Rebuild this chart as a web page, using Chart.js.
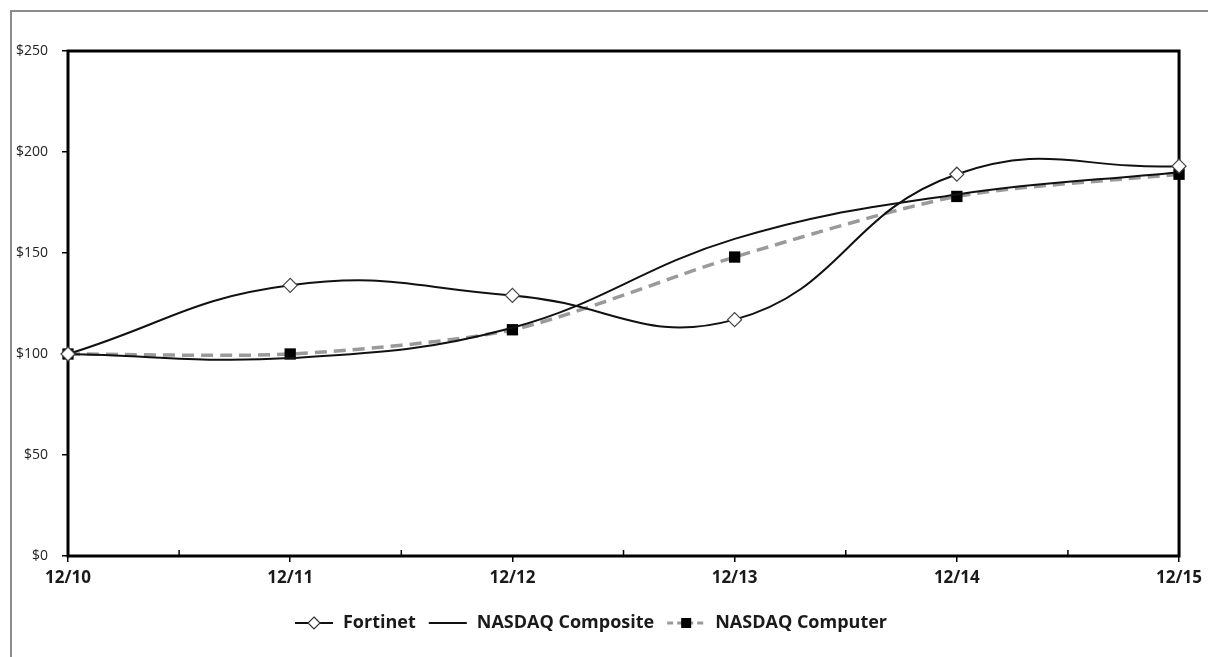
<!DOCTYPE html>
<html>
<head>
<meta charset="utf-8">
<script src="https://cdn.jsdelivr.net/npm/chart.js@4/dist/chart.umd.min.js"></script>
<style>
  html, body { margin: 0; padding: 0; background: #fff; }
  #wrap { position: relative; width: 1208px; height: 657px; }
  #frame { position: absolute; left: 10px; top: 10px; right: 0; bottom: 0;
           border-top: 2px solid #8c8c8c; border-left: 2px solid #8c8c8c; }
  canvas { position: absolute; left: 0; top: 0; }
</style>
</head>
<body>
<div id="wrap">
  <div id="frame"></div>
  <canvas id="perfChart" width="1208" height="657"></canvas>
</div>
<script>
// values
const years = ["12/10", "12/11", "12/12", "12/13", "12/14", "12/15"];
const fortinet = [100, 134, 129, 117, 189, 193];
const nasdaqComposite = [100, 98, 113, 157, 179, 190];
const nasdaqComputer = [100, 100, 112, 148, 178, 189];
const yTicks = [0, 50, 100, 150, 200, 250];

const FONT = "'Open Sans', sans-serif";

// small legend icons: line with marker, like the spreadsheet legend
const makeIcon = (kind) => {
    const c = document.createElement("canvas");
    c.width = 40;
    c.height = 16;
    const g = c.getContext("2d");
    g.lineCap = "butt";
    if (kind === "computer") {
        g.strokeStyle = "#9a9a9a";
        g.lineWidth = 3;
        g.setLineDash([6, 4]);
    } else {
        g.strokeStyle = "#111";
        g.lineWidth = 2;
    }
    g.beginPath();
    g.moveTo(1, 8);
    g.lineTo(39, 8);
    g.stroke();
    g.setLineDash([]);
    if (kind === "fortinet") {
        g.fillStyle = "#fff";
        g.strokeStyle = "#333";
        g.lineWidth = 1.2;
        g.beginPath();
        g.moveTo(20, 2);
        g.lineTo(26, 8);
        g.lineTo(20, 14);
        g.lineTo(14, 8);
        g.closePath();
        g.fill();
        g.stroke();
    }
    if (kind === "computer") {
        g.fillStyle = "#000";
        g.fillRect(15, 3, 10, 10);
    }
    return c;
};
const icons = [makeIcon("fortinet"), makeIcon("composite"), makeIcon("computer")];

// plot box and the little x ticks between categories
const framePlugin = {
    id: "framePlugin",
    beforeDatasetsDraw(chart) {
        const {ctx, chartArea} = chart;
        const xs = chart.scales.x;
        ctx.save();
        ctx.strokeStyle = "#000";
        ctx.lineWidth = 1.5;
        for (let i = 0; i < years.length - 1; i++) {
            const px = xs.getPixelForValue(i + 0.5);
            ctx.beginPath();
            ctx.moveTo(px, chartArea.bottom);
            ctx.lineTo(px, chartArea.bottom - 6);
            ctx.stroke();
        }
        ctx.lineWidth = 3;
        ctx.strokeRect(chartArea.left, chartArea.top,
            chartArea.right - chartArea.left, chartArea.bottom - chartArea.top);
        ctx.restore();
    }
};

const ctx = document.getElementById("perfChart");

new Chart(ctx, {
    type: "line",
    data: {
        labels: years,
        datasets: [{
            label: "Fortinet",
            data: fortinet,
            borderColor: "#111",
            borderWidth: 2,
            tension: 0.45,
            pointStyle: "rectRot",
            pointRadius: 7,
            pointBackgroundColor: "#fff",
            pointBorderColor: "#444",
            pointBorderWidth: 1.2,
            clip: false
        }, {
            label: "NASDAQ Composite",
            data: nasdaqComposite,
            borderColor: "#111",
            borderWidth: 2,
            tension: 0.4,
            pointRadius: 0,
            clip: false
        }, {
            label: "NASDAQ Computer",
            data: nasdaqComputer,
            borderColor: "#9a9a9a",
            borderWidth: 3.5,
            borderDash: [12, 7],
            tension: 0.25,
            pointStyle: "rect",
            pointRadius: 8,
            pointBackgroundColor: "#000",
            pointBorderColor: "#000",
            pointBorderWidth: 0,
            clip: false
        }]
    },
    options: {
        responsive: false,
        animation: false,
        devicePixelRatio: 1,
        layout: { padding: { left: 0, top: 51, right: 27, bottom: 15 } },
        scales: {
            x: {
                type: "category",
                offset: false,
                grid: { display: true, drawOnChartArea: false, drawTicks: true,
                        tickLength: 6, color: "#000", lineWidth: 1.5 },
                border: { display: false },
                ticks: { color: "#1a1a1a", padding: 6, maxRotation: 0,
                         font: { family: FONT, size: 17, weight: "bold" } },
                afterFit: (scale) => { scale.height = 46; }
            },
            y: {
                min: 0,
                max: 250,
                afterBuildTicks: (scale) => { scale.ticks = yTicks.map(v => ({ value: v })); },
                grid: { display: true, drawOnChartArea: false, drawTicks: true,
                        tickLength: 6, color: "#000", lineWidth: 1.5 },
                border: { display: false },
                ticks: { color: "#222", padding: 14,
                         callback: (v) => "$" + v,
                         font: { family: FONT, size: 14 } },
                afterFit: (scale) => { scale.width = 68; }
            }
        },
        plugins: {
            tooltip: { enabled: false },
            legend: {
                position: "bottom",
                labels: {
                    usePointStyle: true,
                    pointStyleWidth: 40,
                    padding: 12,
                    color: "#1a1a1a",
                    font: { family: FONT, size: 18, weight: "bold" },
                    generateLabels: (chart) => {
                        const items = Chart.defaults.plugins.legend.labels.generateLabels(chart);
                        return items.map((it, i) => Object.assign(it, { pointStyle: icons[i] }));
                    }
                }
            }
        }
    },
    plugins: [framePlugin]
});
</script>
</body>
</html>
